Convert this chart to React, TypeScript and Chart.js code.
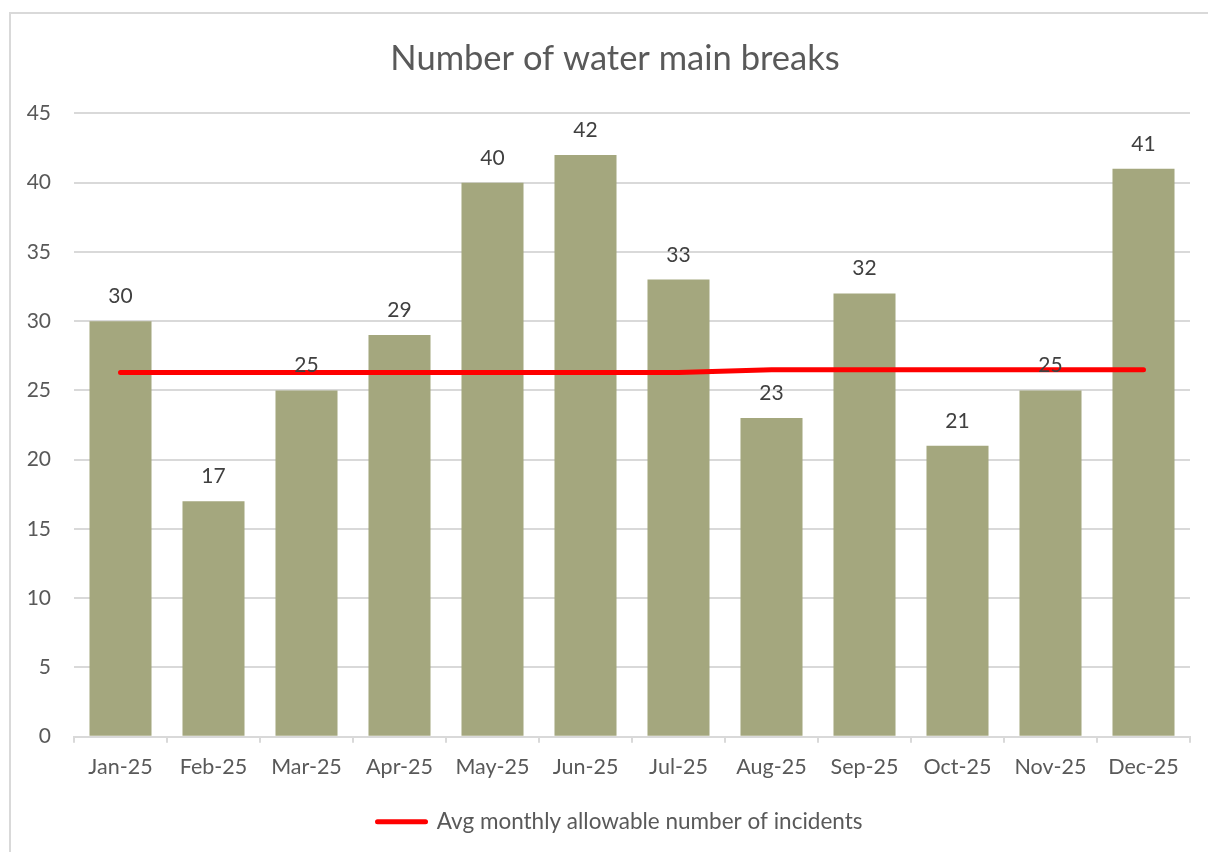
import React, { useEffect, useRef } from "react";
import { Chart, registerables } from "chart.js";

Chart.register(...registerables);

const months = ["Jan-25", "Feb-25", "Mar-25", "Apr-25", "May-25", "Jun-25", "Jul-25", "Aug-25", "Sep-25", "Oct-25", "Nov-25", "Dec-25"];
const breaks = [30, 17, 25, 29, 40, 42, 33, 23, 32, 21, 25, 41];
const avgAllowable = [26.3, 26.3, 26.3, 26.3, 26.3, 26.3, 26.3, 26.5, 26.5, 26.5, 26.5, 26.5];
const yTicks = [0, 5, 10, 15, 20, 25, 30, 35, 40, 45];

const FONT = "Lato, 'Noto Sans', sans-serif";
const TEXT = "#595959";
const GRID = "#d9d9d9";

const barLabels = {
  id: "barLabels",
  afterDatasetsDraw(chart: any) {
    const ctx = chart.ctx;
    const meta = chart.getDatasetMeta(0);
    const ds = chart.data.datasets[0];
    ctx.save();
    ctx.font = `21px ${FONT}`;
    ctx.fillStyle = "#404040";
    ctx.textAlign = "center";
    ctx.textBaseline = "alphabetic";
    meta.data.forEach((el: any, i: number) => {
      ctx.fillText(String(ds.data[i]), el.x, el.y - 18);
    });
    ctx.restore();
  },
};

// Excel centres the title and legend over a slightly wider chart box
const shiftBoxes = {
  id: "shiftBoxes",
  afterLayout(chart: any) {
    if (chart.titleBlock) {
      chart.titleBlock.left += 20;
      chart.titleBlock.right += 20;
    }
    if (chart.legend) {
      chart.legend.left += 25;
      chart.legend.right += 25;
    }
  },
};

export default function App() {
  const ref = useRef<HTMLCanvasElement>(null);
  useEffect(() => {
    if (!ref.current) return;
    const chart = new Chart(ref.current, {
      type: "bar",
      data: {
        labels: months,
        datasets: [
          {
            type: "bar",
            label: "Number of water main breaks",
            data: breaks,
            backgroundColor: "#a4a77e",
            borderWidth: 0,
            categoryPercentage: 1,
            barPercentage: 0.667,
            order: 2,
          },
          {
            type: "line",
            label: "Avg monthly allowable number of incidents",
            data: avgAllowable,
            borderColor: "#ff0000",
            backgroundColor: "#ff0000",
            borderWidth: 5,
            borderCapStyle: "round",
            pointRadius: 0,
            tension: 0,
            order: 1,
          } as any,
        ],
      },
      options: {
        responsive: false,
        animation: false,
        layout: { padding: { left: 0, right: 18, top: 0, bottom: 9 } },
        plugins: {
          title: {
            display: true,
            text: "Number of water main breaks",
            color: TEXT,
            font: { family: FONT, size: 34.5, weight: "normal" },
            padding: { top: 38, bottom: 34 },
          },
          legend: {
            position: "bottom",
            labels: {
              color: TEXT,
              font: { family: FONT, size: 22.5 },
              boxWidth: 48,
              boxHeight: 0,
              padding: 20,
              filter: (item: any) => item.datasetIndex === 1,
              generateLabels: (chart: any) =>
                chart.data.datasets.map((d: any, i: number) => ({
                  text: d.label,
                  fillStyle: "#ff0000",
                  strokeStyle: "#ff0000",
                  lineWidth: 5,
                  lineCap: "round",
                  lineJoin: "round",
                  datasetIndex: i,
                  fontColor: TEXT,
                  hidden: false,
                })),
            },
          },
          tooltip: { enabled: false },
        },
        scales: {
          x: {
            offset: true,
            grid: {
              display: true,
              offset: true,
              drawOnChartArea: false,
              drawTicks: true,
              tickLength: 6,
              color: GRID,
              lineWidth: 2,
            },
            border: { display: true, color: GRID, width: 2 },
            ticks: { color: TEXT, font: { family: FONT, size: 21.5 }, padding: 11, maxRotation: 0 },
          },
          y: {
            min: 0,
            max: 45,
            afterBuildTicks: (scale: any) => {
              scale.ticks = yTicks.map((v) => ({ value: v }));
            },
            afterFit: (scale: any) => {
              scale.width = 74;
            },
            grid: { color: GRID, lineWidth: 2, drawTicks: false },
            border: { display: false },
            ticks: { color: TEXT, font: { family: FONT, size: 21 }, padding: 23 },
          },
        },
      },
      plugins: [barLabels, shiftBoxes],
    });
    return () => chart.destroy();
  }, []);

  return (
    <div style={{ position: "fixed", left: 0, top: 0, width: 1208, height: 852, overflow: "hidden", background: "#fff" }}>
      <div
        style={{
          position: "absolute",
          left: 9,
          top: 12,
          width: 1400,
          height: 1000,
          borderLeft: "2px solid #d9d9d9",
          borderTop: "2px solid #d9d9d9",
        }}
      />
      <canvas ref={ref} width={1208} height={852} style={{ position: "absolute", left: 0, top: 0 }} />
    </div>
  );
}
